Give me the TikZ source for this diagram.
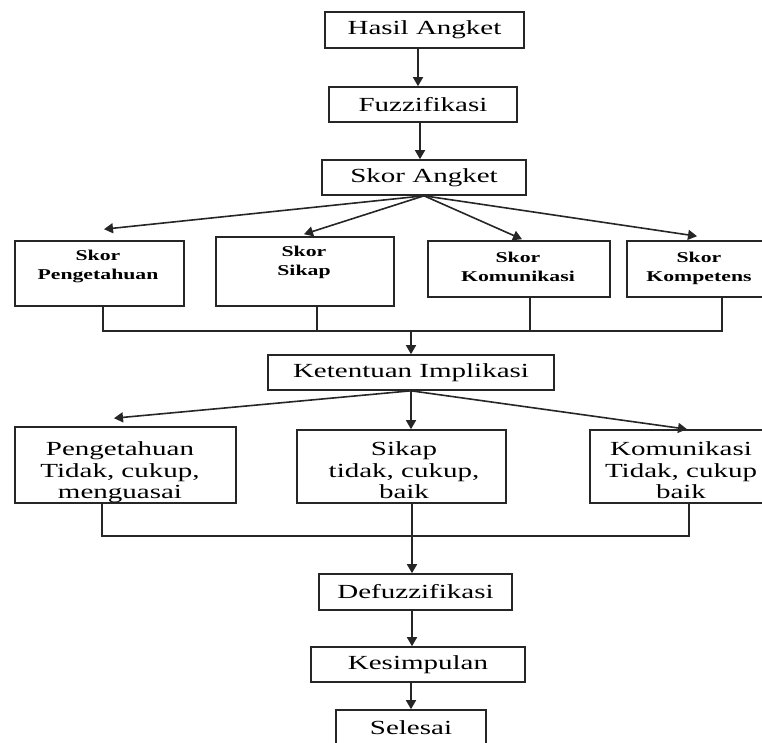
\documentclass[tikz,border=0pt]{standalone}
\usepackage{fontspec}
\setmainfont[FakeStretch=1.45]{Liberation Serif}
\usetikzlibrary{arrows.meta,calc}
\begin{document}
\begin{tikzpicture}[x=1pt,y=-1pt,line width=1.6pt,
  box/.style={draw=black!85,rectangle,inner sep=0pt},
  arr/.style={draw=black!85,-{Triangle[length=9pt,width=10pt]}},
  ln/.style={draw=black!85},
  mtxt/.style={font=\fontsize{20}{21.5}\selectfont},
  stxt/.style={font=\bfseries\fontsize{15}{19}\selectfont,align=center,anchor=north,inner sep=0pt},
  ltxt/.style={font=\fontsize{20}{21.5}\selectfont,align=center,anchor=north,inner sep=0pt}]
\useasboundingbox (0,0) rectangle (762,743);
\clip (0,0) rectangle (762,743);
% main column
\node[box,mtxt,minimum width=199pt,minimum height=36pt] (ha) at (424.5,30) {Hasil Angket};
\node[box,mtxt,minimum width=188pt,minimum height=35pt] (fz) at (423,104.5) {Fuzzifikasi};
\node[box,mtxt,minimum width=204pt,minimum height=35pt] (sa) at (424,177.5) {Skor Angket};
% score boxes
\node[box,minimum width=169pt,minimum height=65pt] (sp) at (99.5,273.5) {};
\node[box,minimum width=178pt,minimum height=69pt] (ss) at (305,271.5) {};
\node[box,minimum width=182pt,minimum height=56pt] (sk) at (519,269) {};
\node[box,minimum width=145pt,minimum height=56pt] (sc) at (699.5,269) {};
\node[stxt] (spt) at (98,249) {Skor\\Pengetahuan};
\node[stxt] (sst) at (304,245) {Skor\\Sikap};
\node[stxt] (skt) at (518,251) {Skor\\Komunikasi};
\node[stxt] (sct) at (699,251) {Skor\\Kompetens};
\node[box,mtxt,minimum width=286pt,minimum height=35pt] (ki) at (411,372.5) {Ketentuan Implikasi};
% lower boxes
\node[box,minimum width=221pt,minimum height=76pt] (p3) at (125.5,465) {};
\node[box,minimum width=209pt,minimum height=73pt] (s3) at (401.5,466.5) {};
\node[box,minimum width=182pt,minimum height=73pt] (k3) at (681,466.5) {};
\node[ltxt] (p3t) at (120,441) {Pengetahuan\\Tidak, cukup,\\menguasai};
\node[ltxt] (s3t) at (404,441) {Sikap\\tidak, cukup,\\baik};
\node[ltxt] (k3t) at (681,441) {Komunikasi\\Tidak, cukup\\baik};
\node[box,mtxt,minimum width=193pt,minimum height=36pt] (df) at (415.5,592) {Defuzzifikasi};
\node[box,mtxt,minimum width=214pt,minimum height=35pt] (ks) at (418,664.5) {Kesimpulan};
\node[box,mtxt,minimum width=150pt,minimum height=36pt] (sl) at (411,728) {Selesai};
% top arrows
\draw[arr] ($(ha.south)+(-6.5,0)$) -- ($(fz.north)+(-5,0)$);
\draw[arr] ($(fz.south)+(-3,0)$) -- ($(sa.north)+(-4,0)$);
\draw[arr] (sa.south) -- ($(sp.north)+(4.5,-11)$);
\draw[arr] (sa.south) -- ($(ss.north)+(-1,-2)$);
\draw[arr] (sa.south) -- ($(sk.north)+(3,-1)$);
\draw[arr] (sa.south) -- ($(sc.north)+(-2.5,-4)$);
% collector 1
\coordinate (b1) at ($(sp.south)+(3.5,0)$);
\coordinate (b2) at ($(ss.south)+(12,0)$);
\coordinate (b3) at ($(sk.south)+(11,0)$);
\coordinate (b4) at ($(sc.south)+(22.5,0)$);
\coordinate (j1) at (411,331);
\draw[ln] (b1) |- (b4 |- j1) -- (b4);
\draw[ln] (b2) -- (b2 |- j1);
\draw[ln] (b3) -- (b3 |- j1);
\draw[arr] (j1) -- (j1 |- ki.north);
% implication arrows
\draw[arr] (ki.south) -- ($(p3.north)+(-11.5,-8)$);
\draw[arr] (ki.south) -- (ki.south |- s3.north);
\draw[arr] (ki.south) -- ($(k3.north)+(6,0)$);
% collector 2
\coordinate (b5) at ($(p3.south)+(-23.5,0)$);
\coordinate (b6) at ($(k3.south)+(8,0)$);
\coordinate (j2) at (412,536);
\draw[ln] (b5) |- (b6 |- j2) -- (b6);
\draw[arr] (j2 |- s3.south) -- (j2 |- df.north);
\draw[arr] (j2 |- df.south) -- (j2 |- ks.north);
\draw[arr] (sl |- ks.south) -- (sl.north);
\end{tikzpicture}
\end{document}
